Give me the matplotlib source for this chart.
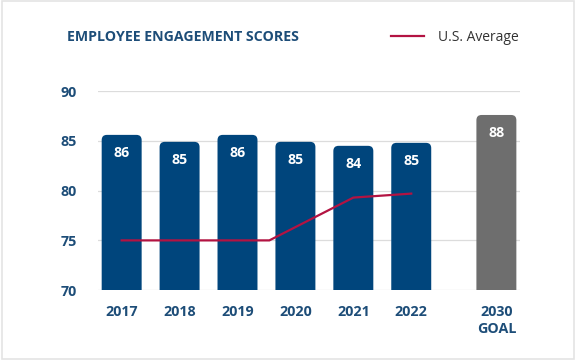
import matplotlib
matplotlib.use("Agg")
import matplotlib.pyplot as plt
from matplotlib.patches import FancyBboxPatch, Rectangle

# data
categories = ["2017", "2018", "2019", "2020", "2021", "2022", "2030\nGOAL"]
scores = [85.6, 84.9, 85.6, 84.9, 84.5, 84.8, 87.6]
score_labels = ["86", "85", "86", "85", "84", "85", "88"]
avg_years = [2017, 2018, 2019, 2019.55, 2021, 2022]
avg_values = [75.0, 75.0, 75.0, 75.0, 79.3, 79.7]
y_ticks = [70, 75, 80, 85, 90]

BLUE = "#00457c"
GREY = "#6e6e6e"
RED = "#b31342"
NAVY = "#1d4d78"

plt.rcParams["font.family"] = ["Open Sans", "DejaVu Sans"]

fig = plt.figure(figsize=(5.76, 3.6), dpi=100)
fig.patches.append(Rectangle((0.003, 0.004), 0.994, 0.992, transform=fig.transFigure,
                             facecolor="white", edgecolor="#e4e4e4", lw=1.2, zorder=-1))
ax = fig.add_axes([0.170, 0.194, 0.733, 0.553])

# goal bar sits apart from the yearly ones
xpos = [0, 1, 2, 3, 4, 5, 6.47]
width = 0.69
ymin = 70

for i, (x, v) in enumerate(zip(xpos, scores)):
    color = GREY if i == len(scores) - 1 else BLUE
    box = FancyBboxPatch((x - width / 2, ymin - 1), width, v - ymin + 1,
                         boxstyle="round,pad=0,rounding_size=0.09",
                         mutation_aspect=5.8, facecolor=color, edgecolor="none",
                         zorder=2, clip_on=True)
    ax.add_patch(box)
    ax.text(x, v - 1.85, score_labels[i], ha="center", va="center", color="white",
            fontsize=10.2, fontweight="bold", zorder=4)

line_x = [y - 2017 for y in avg_years]
ax.plot(line_x, avg_values, color=RED, lw=1.6, zorder=3, label="U.S. Average",
        solid_joinstyle="miter")

ax.set_xlim(-0.41, 6.88)
ax.set_ylim(70, 90)
ax.set_yticks(y_ticks)
ax.set_xticks(xpos)
ax.set_xticklabels(categories)
ax.grid(axis="y", color="#dcdcdc", lw=0.9, zorder=0)
ax.set_axisbelow(True)
for s in ax.spines.values():
    s.set_visible(False)
ax.tick_params(length=0)
ax.tick_params(axis="y", pad=15, labelsize=10.3, labelcolor=NAVY)
ax.tick_params(axis="x", pad=11, labelsize=10.3, labelcolor=NAVY)
for lab in ax.get_xticklabels() + ax.get_yticklabels():
    lab.set_fontweight("bold")
for lab in ax.get_xticklabels():
    lab.set_linespacing(1.25)
    lab.set_verticalalignment("top")

fig.text(0.117, 0.897, "EMPLOYEE ENGAGEMENT SCORES", ha="left", va="center",
         color=NAVY, fontsize=10.2, fontweight="bold")

leg = fig.legend(loc="center", bbox_to_anchor=(0.79, 0.897), frameon=False,
                 fontsize=10, handlelength=2.4, handletextpad=1.0)
for t in leg.get_texts():
    t.set_color("#333333")

fig.savefig("out.png", dpi=100)
